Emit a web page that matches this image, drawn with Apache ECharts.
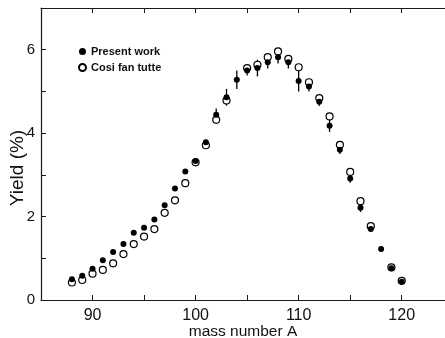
<!DOCTYPE html>
<html><head><meta charset="utf-8">
<script src="https://cdn.jsdelivr.net/npm/echarts@6/dist/echarts.min.js"></script>
<style>html,body{margin:0;padding:0;background:#fff}#c{width:445px;height:338px}</style>
</head><body><div id="c"></div>
<script>
const massNumbers = [88,89,90,91,92,93,94,95,96,97,98,99,100,101,102,103,104,105,106,107,108,109,110,111,112,113,114,115,116,117,118,119,120];
const presentWork = [0.50,0.58,0.75,0.95,1.15,1.34,1.61,1.73,1.93,2.27,2.67,3.08,3.33,3.78,4.44,4.86,5.28,5.50,5.56,5.70,5.82,5.70,5.25,5.12,4.75,4.18,3.60,2.91,2.21,1.70,1.22,0.76,0.44];
const presentErr  = [0,0,0,0,0,0,0,0,0,0,0,0,0.04,0.06,0.15,0.2,0.22,0.12,0.2,0.15,0.15,0.15,0.25,0.12,0.1,0.15,0.1,0.1,0.1,0.05,0,0,0];
const cosiMass = [88,89,90,91,92,93,94,95,96,97,98,99,100,101,102,103,105,106,107,108,109,110,111,112,113,114,115,116,117,119,120];
const cosiFanTutte = [0.42,0.48,0.63,0.72,0.88,1.10,1.34,1.52,1.70,2.09,2.39,2.80,3.30,3.71,4.32,4.78,5.56,5.64,5.82,5.96,5.78,5.58,5.22,4.84,4.40,3.72,3.07,2.37,1.77,0.78,0.46];
const xTicks = [90,100,110,120];
const yTicks = [0,2,4,6];

const filled = massNumbers.map((a,i)=>[a,presentWork[i]]);
const open = cosiMass.map((a,i)=>[a,cosiFanTutte[i]]);
const errs = massNumbers.map((a,i)=>[a,presentWork[i]-presentErr[i],presentWork[i]+presentErr[i]]).filter((d,i)=>presentErr[i]>0);

const FF = 'Liberation Sans, Arial, sans-serif';
const axisCol = '#1a1a1a';
const chart = echarts.init(document.getElementById('c'), null, {renderer:'canvas'});
chart.setOption({
  animation:false,
  backgroundColor:'#fff',
  grid:{left:41,right:0,top:8,bottom:38,containLabel:false,outerBoundsMode:'none'},
  legend:{
    orient:'vertical', left:73, top:41, itemWidth:7, itemHeight:7, itemGap:5,
    textStyle:{fontFamily:FF, fontSize:11, fontWeight:'bold', color:'#111'},
    data:[{name:'Present work', icon:'circle'},{name:'Cosi fan tutte', icon:'circle'}]
  },
  xAxis:[{
    type:'value', min:85, max:124.2, interval:5,
    name:'mass number A', nameLocation:'middle', nameGap:24, nameMoveOverlap:false,
    nameTextStyle:{fontFamily:FF, fontSize:15.5, color:'#111'},
    axisLine:{show:true,lineStyle:{color:axisCol,width:1.2}},
    axisTick:{show:true,inside:true,length:5,lineStyle:{color:axisCol}},
    splitLine:{show:false},
    axisLabel:{fontFamily:FF, fontSize:16, color:'#111', margin:8,
      showMinLabel:false, showMaxLabel:false,
      formatter:v=>xTicks.includes(v)?String(v):''}
  },{
    type:'value', position:'top', min:85, max:124.2, interval:5,
    axisLine:{show:true,onZero:false,lineStyle:{color:axisCol,width:1.2}},
    axisTick:{show:true,inside:true,length:5,lineStyle:{color:axisCol}},
    axisLabel:{show:false}, splitLine:{show:false}
  }],
  yAxis:{
    type:'value', min:0, max:7, interval:1,
    name:'Yield (%)', nameLocation:'middle', nameGap:14, nameRotate:90, nameMoveOverlap:false,
    nameTextStyle:{fontFamily:FF, fontSize:19, color:'#111', padding:[0,28,0,0]},
    axisLine:{show:true,lineStyle:{color:axisCol,width:1.2}},
    axisTick:{show:true,inside:true,length:5,lineStyle:{color:axisCol}},
    splitLine:{show:false},
    axisLabel:{fontFamily:FF, fontSize:15, color:'#111', margin:6,
      formatter:v=>yTicks.includes(v)?String(v):''}
  },
  series:[
    {name:'errbars', type:'custom', data:errs, z:1,
      renderItem:(params,api)=>{
        const top=api.coord([api.value(0),api.value(2)]);
        const bot=api.coord([api.value(0),api.value(1)]);
        return {type:'line',shape:{x1:top[0],y1:top[1],x2:bot[0],y2:bot[1]},style:{stroke:'#000',lineWidth:1.3}};
      }},
    {name:'Cosi fan tutte', type:'scatter', data:open, symbol:'circle', symbolSize:7, z:2,
      itemStyle:{color:'#fff',borderColor:'#000',borderWidth:1.2,opacity:1}},
    {name:'Present work', type:'scatter', data:filled, symbol:'circle', symbolSize:6, z:3,
      itemStyle:{color:'#000',opacity:1}}
  ]
});
</script></body></html>
